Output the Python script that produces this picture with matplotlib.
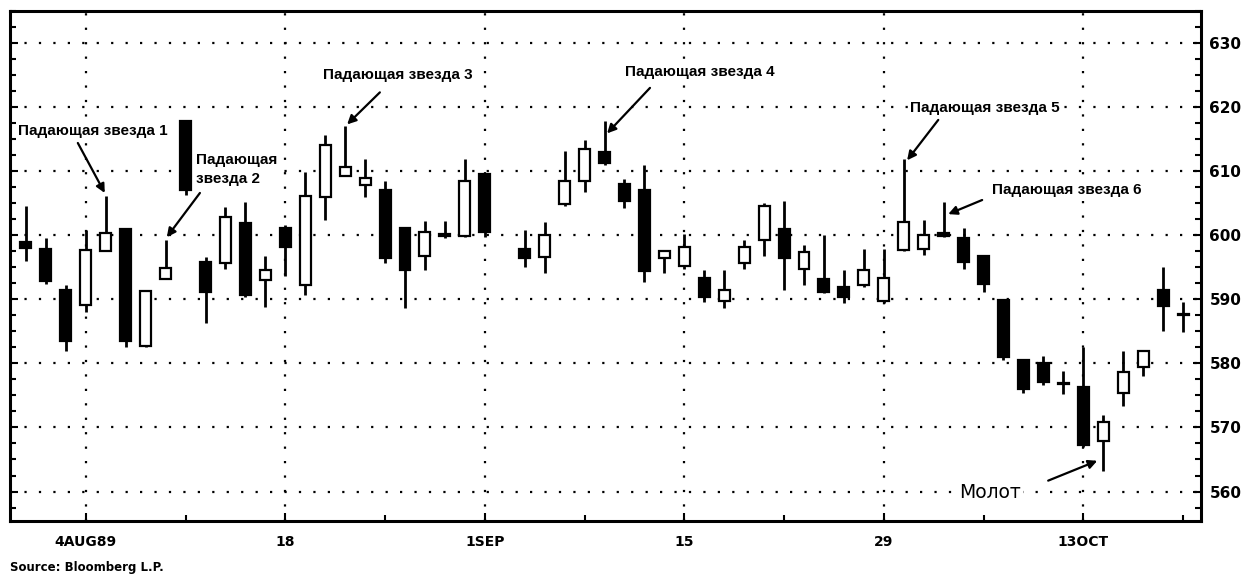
import numpy as np
import matplotlib
matplotlib.use('Agg')
import matplotlib.pyplot as plt
from matplotlib.ticker import MultipleLocator, FixedLocator


# DAILY CANDLES, AUG-OCT 1989
dates = ['1989-08-01', '1989-08-02', '1989-08-03', '1989-08-04', '1989-08-07', '1989-08-08',
         '1989-08-09', '1989-08-10', '1989-08-11', '1989-08-14', '1989-08-15', '1989-08-16',
         '1989-08-17', '1989-08-18', '1989-08-21', '1989-08-22', '1989-08-23', '1989-08-24',
         '1989-08-25', '1989-08-28', '1989-08-29', '1989-08-30', '1989-08-31', '1989-09-01',
         '1989-09-05', '1989-09-06', '1989-09-07', '1989-09-08', '1989-09-11', '1989-09-12',
         '1989-09-13', '1989-09-14', '1989-09-15', '1989-09-18', '1989-09-19', '1989-09-20',
         '1989-09-21', '1989-09-22', '1989-09-25', '1989-09-26', '1989-09-27', '1989-09-28',
         '1989-09-29', '1989-10-02', '1989-10-03', '1989-10-04', '1989-10-05', '1989-10-06',
         '1989-10-09', '1989-10-10', '1989-10-11', '1989-10-12', '1989-10-13', '1989-10-16',
         '1989-10-17', '1989-10-18', '1989-10-19', '1989-10-20']

opens = [599.0, 597.8, 591.5, 589.1, 597.6, 601.0, 582.7, 593.2, 617.9, 595.9, 595.6, 601.9,
         593.0, 601.2, 592.2, 605.9, 609.3, 607.8, 607.0, 601.2, 596.7, 600.2, 599.9, 609.5,
         597.9, 596.6, 604.9, 608.4, 613.0, 608.0, 607.0, 596.5, 595.2, 593.3, 589.8, 595.7,
         599.2, 600.9, 594.8, 593.1, 592.0, 592.2, 589.7, 597.7, 597.8, 600.3, 599.5, 596.7,
         589.9, 580.6, 580.1, 576.9, 576.3, 567.9, 575.3, 579.5, 591.4, 587.6]
highs = [604.5, 599.5, 592.2, 600.8, 606.2, 601.2, 591.4, 599.3, 618.0, 596.6, 604.4, 605.2,
         596.7, 601.6, 609.8, 615.7, 617.1, 611.9, 608.5, 601.3, 602.3, 602.3, 611.9, 609.7,
         600.8, 602.1, 613.2, 614.8, 617.9, 608.8, 611.0, 597.7, 600.2, 594.6, 594.6, 599.2,
         605.0, 605.4, 598.5, 600.0, 594.6, 597.9, 597.8, 611.9, 602.4, 605.2, 601.2, 596.8,
         590.0, 580.7, 581.1, 578.8, 582.6, 572.0, 582.0, 582.1, 595.0, 589.6]
lows = [596.0, 592.4, 582.0, 588.0, 597.5, 582.5, 582.6, 593.1, 606.3, 586.3, 594.8, 590.4,
        588.8, 593.7, 590.7, 602.4, 609.2, 606.0, 595.7, 588.7, 594.6, 599.5, 599.8, 599.7,
        595.0, 594.1, 604.5, 606.7, 611.0, 604.3, 592.7, 594.1, 594.8, 589.6, 588.6, 594.8,
        596.7, 591.4, 592.2, 591.0, 589.5, 592.0, 589.5, 597.6, 596.9, 599.8, 594.8, 591.1,
        580.6, 575.3, 576.7, 575.2, 567.0, 563.2, 573.3, 578.0, 585.1, 584.9]
closes = [598.0, 592.8, 583.5, 597.7, 600.4, 583.5, 591.3, 594.9, 607.0, 591.2, 602.8, 590.7,
          594.6, 598.2, 606.2, 614.1, 610.6, 608.9, 596.4, 594.6, 600.5, 599.9, 608.4, 600.5,
          596.4, 600.0, 608.4, 613.4, 611.3, 605.4, 594.4, 597.6, 598.1, 590.4, 591.4, 598.2,
          604.5, 596.4, 597.4, 591.2, 590.4, 594.6, 593.3, 602.1, 600.0, 599.9, 595.9, 592.4,
          581.0, 576.0, 577.1, 576.8, 567.3, 570.9, 578.7, 582.0, 588.9, 587.5]

# X AXIS: WEEKLY TICKS, LABELS EVERY TWO WEEKS
week_dates = ['1989-08-04', '1989-08-11', '1989-08-18', '1989-08-25', '1989-09-01', '1989-09-08',
              '1989-09-15', '1989-09-22', '1989-09-29', '1989-10-06', '1989-10-13', '1989-10-20']
label_dates = ['1989-08-04', '1989-08-18', '1989-09-01', '1989-09-15', '1989-09-29', '1989-10-13']
label_text = ['4AUG89', '18', '1SEP', '15', '29', '13OCT']

# ANNOTATIONS: TEXT, CANDLE, ARROW TIP OFFSET, ARROW TAIL, TEXT POSITION
ann_text = ['Падающая звезда 1', 'Падающая\nзвезда 2', 'Падающая звезда 3',
            'Падающая звезда 4', 'Падающая звезда 5', 'Падающая звезда 6']
ann_bar = [4, 7, 16, 28, 43, 45]
ann_tip = [(-0.05, 0.4), (0.06, 0.4), (0.1, 0.2), (0.13, -2.0), (0.17, -0.2), (0.23, -1.9)]
ann_tail = [(2.6, 614.4), (8.72, 606.6), (17.74, 622.3), (31.28, 623.0), (45.73, 618.0), (47.93, 605.5)]
ann_pos = [(3.35, 616.3), (8.5, 610.2), (18.65, 625.0), (33.8, 625.5), (48.08, 619.8), (52.15, 607.0)]

plt.rcParams['font.family'] = ['Liberation Sans', 'DejaVu Sans']

opens, highs, lows, closes = map(np.array, (opens, highs, lows, closes))
x = np.busday_count('1989-08-01', np.array(dates, dtype='datetime64[D]'))
week_x = np.busday_count('1989-08-01', np.array(week_dates, dtype='datetime64[D]'))
label_x = np.busday_count('1989-08-01', np.array(label_dates, dtype='datetime64[D]'))

fig = plt.figure(figsize=(12.6, 5.8), dpi=100)
ax = fig.add_axes([10 / 1260, 59 / 580, 1191 / 1260, 510 / 580])

# GRID
for v in range(560, 631, 10):
    ax.axhline(v, color='black', lw=1.6, ls=(0, (1, 5.5)), zorder=1)
for lx in label_x:
    ax.axvline(lx, color='black', lw=1.6, ls=(0, (1, 5.5)), zorder=1)

# CANDLES
up = closes >= opens
body_bottom = np.minimum(opens, closes)
body_h = np.maximum(np.abs(closes - opens), 0.2)
ax.vlines(x, lows, highs, color='black', lw=2.0, zorder=2)
ax.bar(x, body_h, bottom=body_bottom, width=0.55,
       color=np.where(up, 'white', 'black'), edgecolor='black', linewidth=1.6, zorder=3)

# ANNOTATIONS
arrow = dict(arrowstyle='-|>', color='black', lw=1.6, mutation_scale=13, shrinkA=0, shrinkB=0)
blank = dict(facecolor='white', edgecolor='none', pad=1)
for txt, i, tip, tail, pos in zip(ann_text, ann_bar, ann_tip, ann_tail, ann_pos):
    ax.annotate('', xy=(x[i] + tip[0], highs[i] + tip[1]), xytext=tail, arrowprops=arrow, zorder=4)
    ha = 'left' if '\n' in txt else 'center'
    ax.text(pos[0], pos[1], txt, ha=ha, va='center', fontsize=11, fontweight='bold',
            linespacing=1.45, bbox=blank, zorder=5)

# HAMMER
hi = 53
ax.annotate('', xy=(x[hi] - 0.3, lows[hi] + 1.6), xytext=(51.24, 561.7), arrowprops=arrow, zorder=4)
ax.text(48.34, 559.8, 'Молот', ha='center', va='center', fontsize=13.5, family='DejaVu Sans',
        bbox=blank, zorder=5)

# AXES
ax.set_xlim(-0.8, 58.9)
ax.set_ylim(555.4, 635.0)
ax.xaxis.set_major_locator(FixedLocator(label_x))
ax.xaxis.set_minor_locator(FixedLocator(week_x))
ax.set_xticklabels(label_text)
ax.yaxis.set_major_locator(MultipleLocator(10))
ax.yaxis.set_minor_locator(MultipleLocator(2.5))
ax.tick_params(axis='both', which='both', direction='in', top=False, right=True, width=1.5)
ax.tick_params(axis='both', which='major', length=6)
ax.tick_params(axis='both', which='minor', length=4)
ax.tick_params(axis='y', labelleft=False, labelright=True, pad=6)
ax.tick_params(axis='x', pad=10)
for lab in ax.get_xticklabels() + ax.get_yticklabels():
    lab.set_family('DejaVu Sans')
    lab.set_fontweight('bold')
    lab.set_fontsize(10 if lab in ax.get_xticklabels() else 11)
for sp in ax.spines.values():
    sp.set_linewidth(2.2)

fig.text(10 / 1260, 12 / 580, 'Source: Bloomberg L.P.', fontsize=8.5, fontweight='bold',
         family='DejaVu Sans', ha='left', va='center')

fig.savefig('out.png', dpi=100, facecolor='white')
